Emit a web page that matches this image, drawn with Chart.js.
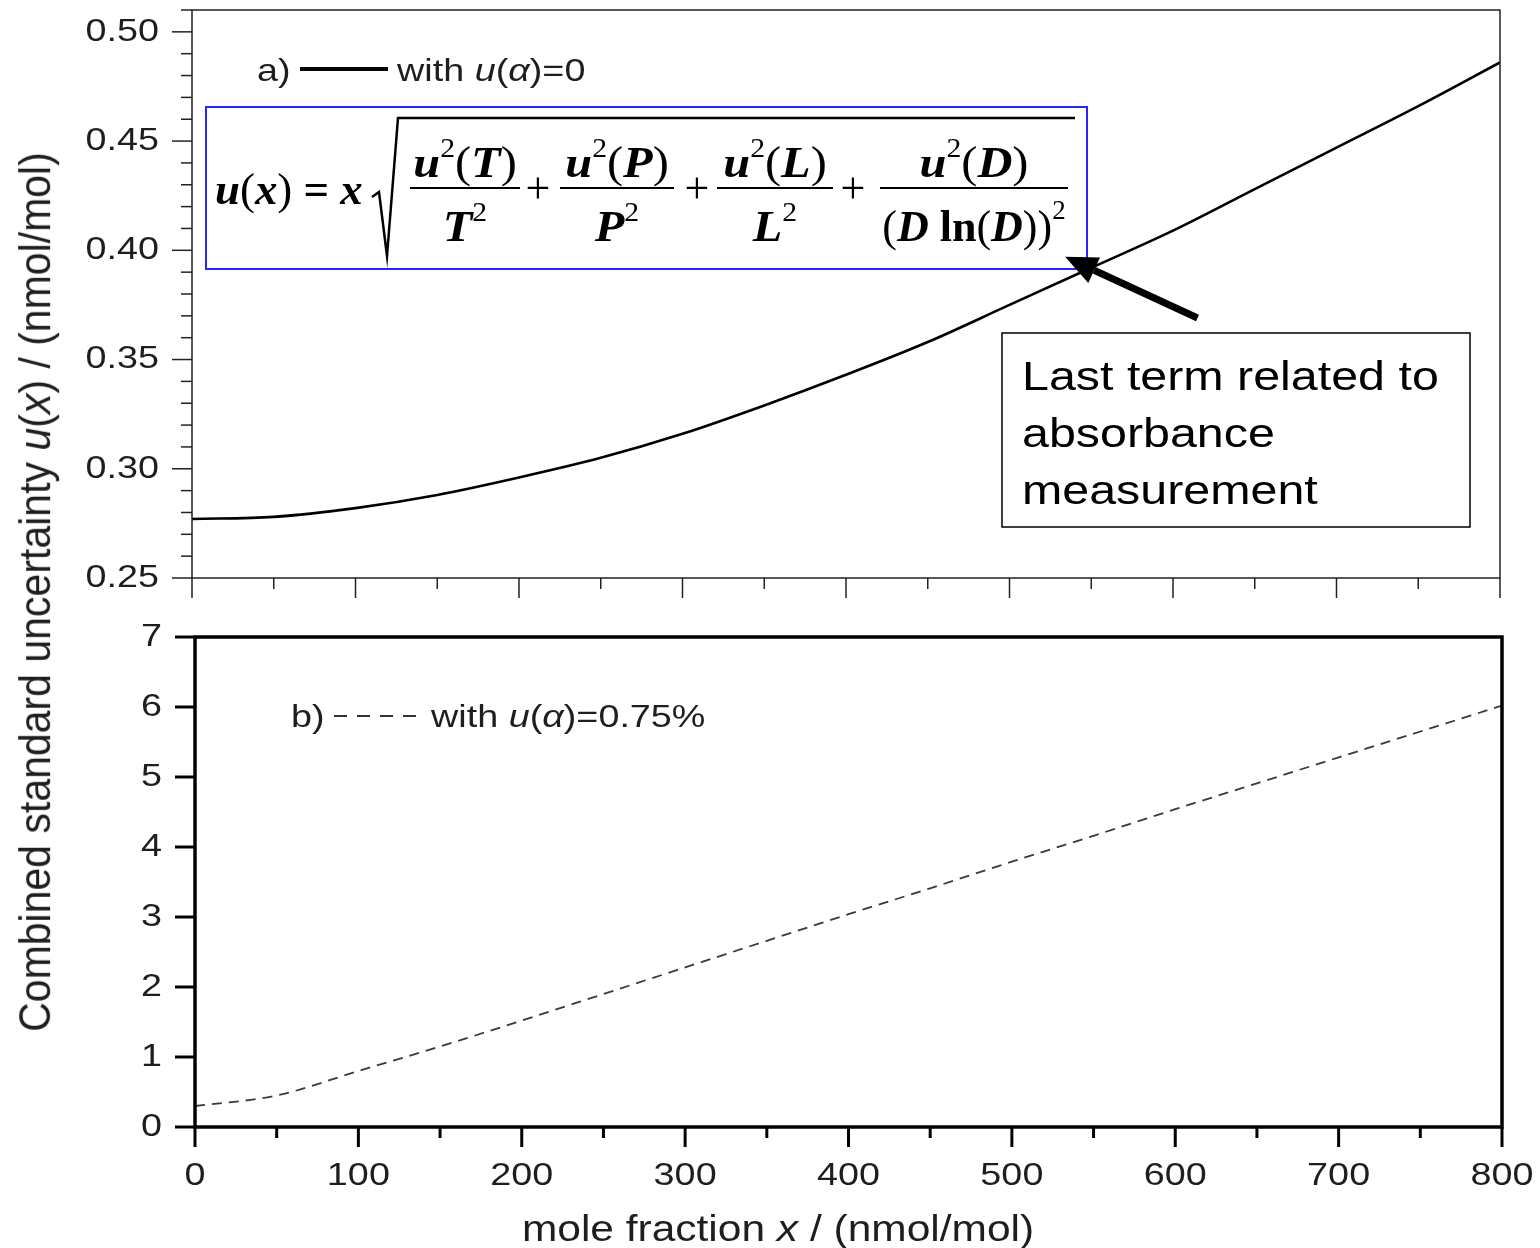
<!DOCTYPE html>
<html>
<head>
<meta charset="utf-8">
<script src="https://cdn.jsdelivr.net/npm/chart.js@4.4.0/dist/chart.umd.min.js"></script>
<style>
  body { margin: 0; background: #fff; width: 1540px; height: 1248px; position: relative; overflow: hidden;
         font-family: "Liberation Sans", Arial, sans-serif; color: #1e1e1e; }
  #graficoA { position: absolute; left: 0; top: 0; }
  #graficoB { position: absolute; left: 0; top: 600px; }
  #ytitle { position: absolute; left: 35px; top: 592px; transform: translate(-50%, -50%) rotate(-90deg) scaleY(1.1);
            white-space: nowrap; font-size: 41px; }
</style>
</head>
<body>
<canvas id="graficoA" width="1540" height="620"></canvas>
<canvas id="graficoB" width="1540" height="648"></canvas>
<div id="ytitle">Combined standard uncertainty <i>u</i>(<i>x</i>) / (nmol/mol)</div>
<script>
// mole fraction x (nmol/mol)
const moleFraction = [0, 50, 100, 150, 200, 250, 300, 350, 400, 450, 500, 550, 600, 650, 700, 750, 800];
// a) u(alpha) = 0
const uAlphaZero = [0.277, 0.278, 0.282, 0.288, 0.296, 0.305, 0.316, 0.329, 0.343, 0.358, 0.375, 0.392, 0.409, 0.428, 0.447, 0.466, 0.486];
// b) u(alpha) = 0.75 %
const uAlpha075 = [0.30, 0.45, 0.80, 1.15, 1.52, 1.90, 2.28, 2.66, 3.04, 3.41, 3.79, 4.16, 4.54, 4.91, 5.28, 5.65, 6.02];
// tick labels
const xTicks = [0, 100, 200, 300, 400, 500, 600, 700, 800];
const yTicksA = [0.25, 0.30, 0.35, 0.40, 0.45, 0.50];
const yTicksB = [0, 1, 2, 3, 4, 5, 6, 7];

const SANS = '"Liberation Sans", Arial, sans-serif';
const SERIF = '"Liberation Serif", "Times New Roman", serif';
const INK = '#1e1e1e';
const SX = 1.18; // o original tem o texto um pouco esticado na horizontal

// texto com partes em fontes diferentes: [texto, fonte, dy]
function rich(ctx, x, y, segs, align, sx) {
  sx = sx || SX;
  let w = 0;
  segs.forEach(s => { ctx.font = s[1]; w += ctx.measureText(s[0]).width; });
  ctx.save();
  ctx.translate(x, y);
  ctx.scale(sx, 1);
  ctx.textAlign = 'left';
  let cx = align === 'center' ? -w / 2 : align === 'right' ? -w : 0;
  segs.forEach(s => {
    ctx.font = s[1];
    ctx.fillText(s[0], cx, s[2] || 0);
    cx += ctx.measureText(s[0]).width;
  });
  ctx.restore();
}

// moldura, marcas de escala para fora e rótulos
const outerTicks = {
  id: 'outerTicks',
  afterDatasetsDraw(chart, args, o) {
    const { ctx, chartArea: a, scales } = chart;
    const xs = scales.x, ys = scales.y;
    ctx.save();
    ctx.strokeStyle = o.color;
    ctx.lineWidth = o.frame;
    ctx.strokeRect(a.left, a.top, a.right - a.left, a.bottom - a.top);
    ctx.lineWidth = o.tickWidth;
    let n = Math.round((xs.max - xs.min) / o.xMinor);
    for (let i = 0; i <= n; i++) {
      const v = xs.min + i * o.xMinor;
      const major = Math.abs(v / o.xMajor - Math.round(v / o.xMajor)) < 1e-6;
      const p = xs.getPixelForValue(v);
      ctx.beginPath(); ctx.moveTo(p, a.bottom); ctx.lineTo(p, a.bottom + (major ? o.majLen : o.minLen)); ctx.stroke();
    }
    n = Math.round((ys.max - ys.min) / o.yMinor);
    for (let i = 0; i <= n; i++) {
      const v = ys.min + i * o.yMinor;
      const major = Math.abs(v / o.yMajor - Math.round(v / o.yMajor)) < 1e-6;
      const p = ys.getPixelForValue(v);
      ctx.beginPath(); ctx.moveTo(a.left, p); ctx.lineTo(a.left - (major ? o.majLen : o.minLen), p); ctx.stroke();
    }
    // rótulos
    ctx.fillStyle = INK;
    ctx.textBaseline = 'middle';
    const f = '32px ' + SANS;
    (o.yLabels || []).forEach(v => {
      rich(ctx, a.left - o.yPad, ys.getPixelForValue(v), [[v.toFixed(o.yDec), f]], 'right');
    });
    (o.xLabels || []).forEach(v => {
      rich(ctx, xs.getPixelForValue(v), a.bottom + o.xPad, [[String(v), f]], 'center');
    });
    ctx.restore();
  }
};

// anotações do painel a)
const panelA = {
  id: 'panelA',
  afterDraw(chart) {
    const { ctx, scales: { x, y } } = chart;
    ctx.save();
    ctx.fillStyle = INK;
    ctx.textBaseline = 'alphabetic';
    // legenda
    const f = '32px ' + SANS, fi = 'italic 32px ' + SANS;
    rich(ctx, 257, 81, [['a)', f]]);
    ctx.strokeStyle = '#000'; ctx.lineWidth = 4;
    ctx.beginPath(); ctx.moveTo(300, 69); ctx.lineTo(388, 69); ctx.stroke();
    rich(ctx, 397, 81, [['with ', f], ['u', fi], ['(', f], ['\u03b1', fi], [')=0', f]]);

    // caixa azul com a fórmula
    ctx.strokeStyle = '#2626ff'; ctx.lineWidth = 2;
    ctx.strokeRect(206, 107, 881, 162);
    ctx.fillStyle = '#000';
    const B = 'bold italic 44px ' + SERIF, R = 'bold 44px ' + SERIF, P = '44px ' + SERIF, S = '27px ' + SERIF;
    const FS = 1.1;
    rich(ctx, 215, 204, [['u', B], ['(', P], ['x', B], [')', P], [' = ', R], ['x', B]], 'left', 1.02);
    ctx.strokeStyle = '#000'; ctx.lineWidth = 2.5;
    ctx.beginPath();
    ctx.moveTo(372, 197); ctx.lineTo(379, 192); ctx.lineTo(387, 256); ctx.lineTo(398, 118); ctx.lineTo(1075, 118);
    ctx.stroke();
    const fracs = [
      [465, 55, 'T', [['T', B], ['2', S, -20]]],
      [617, 57, 'P', [['P', B], ['2', S, -20]]],
      [775, 58, 'L', [['L', B], ['2', S, -20]]],
      [974, 94, 'D', [['(', P], ['D', B], [' ln', R], ['(', P], ['D', B], [')', P], [')', P], ['2', S, -22]]]
    ];
    fracs.forEach(fr => {
      const [cx, hw, v, den] = fr;
      rich(ctx, cx, 177, [['u', B], ['2', S, -20], ['(', P], [v, B], [')', P]], 'center', FS);
      ctx.lineWidth = 2;
      ctx.beginPath(); ctx.moveTo(cx - hw, 188); ctx.lineTo(cx + hw, 188); ctx.stroke();
      rich(ctx, cx, 241, den, 'center', den.length > 3 ? 1.0 : FS);
    });
    [538, 697, 853].forEach(px => rich(ctx, px, 203, [['+', P]], 'center', 1));

    // seta até a curva
    const tip = [x.getPixelForValue(534), y.getPixelForValue(0.397)];
    const tail = [x.getPixelForValue(615), y.getPixelForValue(0.369)];
    const ang = Math.atan2(tip[1] - tail[1], tip[0] - tail[0]);
    const hl = 32, hw2 = 14;
    const bx = tip[0] - hl * Math.cos(ang), by = tip[1] - hl * Math.sin(ang);
    ctx.strokeStyle = '#000'; ctx.lineWidth = 7;
    ctx.beginPath(); ctx.moveTo(tail[0], tail[1]); ctx.lineTo(bx, by); ctx.stroke();
    ctx.beginPath();
    ctx.moveTo(tip[0], tip[1]);
    ctx.lineTo(bx + hw2 * Math.sin(ang), by - hw2 * Math.cos(ang));
    ctx.lineTo(bx - hw2 * Math.sin(ang), by + hw2 * Math.cos(ang));
    ctx.closePath(); ctx.fill();

    // caixa de texto
    ctx.fillStyle = '#fff';
    ctx.fillRect(1002, 333, 468, 194);
    ctx.strokeStyle = '#000'; ctx.lineWidth = 1.5;
    ctx.strokeRect(1002, 333, 468, 194);
    ctx.fillStyle = '#000';
    ['Last term related to', 'absorbance', 'measurement'].forEach((t, i) => rich(ctx, 1022, 390 + i * 57, [[t, '41px ' + SANS]]));
    ctx.restore();
  }
};

// anotações do painel b)
const panelB = {
  id: 'panelB',
  afterDraw(chart) {
    const { ctx } = chart;
    ctx.save();
    ctx.fillStyle = INK;
    const f = '32px ' + SANS, fi = 'italic 32px ' + SANS;
    rich(ctx, 291, 127, [['b)', f]]);
    ctx.strokeStyle = '#333'; ctx.lineWidth = 2; ctx.setLineDash([13, 10]);
    ctx.beginPath(); ctx.moveTo(334, 116); ctx.lineTo(424, 116); ctx.stroke();
    ctx.setLineDash([]);
    rich(ctx, 431, 127, [['with ', f], ['u', fi], ['(', f], ['\u03b1', fi], [')=0.75%', f]]);
    // título do eixo x
    const ft = '36px ' + SANS, fti = 'italic 36px ' + SANS;
    rich(ctx, 778, 641, [['mole fraction ', ft], ['x', fti], [' / (nmol/mol)', ft]], 'center');
    ctx.restore();
  }
};

const cfgA = {
  type: 'line',
  data: {
    datasets: [{
      data: moleFraction.map((v, i) => ({ x: v, y: uAlphaZero[i] })),
      borderColor: '#000', borderWidth: 2.6, pointRadius: 0,
      cubicInterpolationMode: 'monotone', fill: false
    }]
  },
  options: {
    responsive: false, animation: false,
    layout: { padding: { top: 10, right: 40, left: 0, bottom: 0 } },
    plugins: {
      legend: { display: false }, tooltip: { enabled: false },
      outerTicks: { color: '#222', frame: 1.5, tickWidth: 1.5, xMinor: 50, xMajor: 100, yMinor: 0.01, yMajor: 0.05,
                    majLen: 20, minLen: 11, yLabels: yTicksA, yDec: 2, yPad: 33 }
    },
    scales: {
      x: {
        type: 'linear', min: 0, max: 800,
        grid: { display: false, drawTicks: false }, border: { display: false },
        ticks: { display: false },
        afterFit: s => { s.height = 42; }
      },
      y: {
        min: 0.25, max: 0.51,
        grid: { display: false, drawTicks: false }, border: { display: false },
        ticks: { display: false },
        afterFit: s => { s.width = 192; }
      }
    }
  },
  plugins: [outerTicks, panelA]
};

const cfgB = {
  type: 'line',
  data: {
    datasets: [{
      data: moleFraction.map((v, i) => ({ x: v, y: uAlpha075[i] })),
      borderColor: '#3a3a3a', borderWidth: 1.8, borderDash: [10, 7], pointRadius: 0,
      cubicInterpolationMode: 'monotone', fill: false
    }]
  },
  options: {
    responsive: false, animation: false,
    layout: { padding: { top: 37, right: 38, left: 0, bottom: 0 } },
    plugins: {
      legend: { display: false }, tooltip: { enabled: false },
      outerTicks: { color: '#000', frame: 3.5, tickWidth: 3, xMinor: 50, xMajor: 100, yMinor: 1, yMajor: 1,
                    majLen: 20, minLen: 11, yLabels: yTicksB, yDec: 0, yPad: 33, xLabels: xTicks, xPad: 49 }
    },
    scales: {
      x: {
        type: 'linear', min: 0, max: 800,
        grid: { display: false, drawTicks: false }, border: { display: false },
        ticks: { display: false },
        afterFit: s => { s.height = 121; }
      },
      y: {
        min: 0, max: 7,
        grid: { display: false, drawTicks: false }, border: { display: false },
        ticks: { display: false },
        afterFit: s => { s.width = 195; }
      }
    }
  },
  plugins: [outerTicks, panelB]
};

new Chart(document.getElementById('graficoA').getContext('2d'), cfgA);
new Chart(document.getElementById('graficoB').getContext('2d'), cfgB);
</script>
</body>
</html>
